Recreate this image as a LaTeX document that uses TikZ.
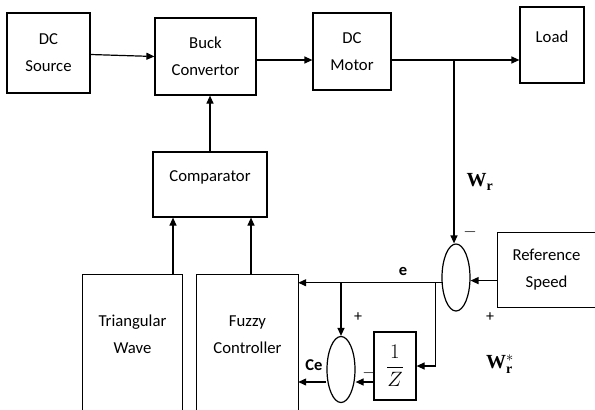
\documentclass[tikz,border=0pt]{standalone}
\usepackage{fontspec}
\setmainfont{Carlito}
\setmathrm{Liberation Serif}
\usetikzlibrary{arrows.meta,shapes.geometric}
\begin{document}
\begin{tikzpicture}[x=1pt,y=-1pt,
  box/.style={draw, line width=1.2pt, align=center, inner sep=0pt, font=\fontsize{16.7}{27}\selectfont},
  obox/.style={align=center, inner sep=0pt, font=\fontsize{16.7}{27}\selectfont},
  wire/.style={line width=1.2pt},
  arr/.style={line width=1.2pt, -{Triangle[length=8pt,width=7pt]}},
  sumnode/.style={ellipse, draw, line width=1.2pt, inner sep=0pt, minimum width=28pt, minimum height=67pt},
  lbl/.style={inner sep=0pt, font=\fontsize{16}{18}\selectfont},
  blbl/.style={inner sep=0pt, font=\fontsize{16.5}{18}\selectfont\bfseries},
  mlbl/.style={inner sep=0pt, font=\fontsize{20}{22}\selectfont}
]
\useasboundingbox (0,0) rectangle (595,410);
% blocks
\node[box, minimum width=83pt, minimum height=80pt] (dcs) at (48.5,53) {DC\\Source};
\node[box, minimum width=101pt, minimum height=77pt] (buck) at (205.5,56.5) {Buck\\Convertor};
\node[box, minimum width=78pt, minimum height=77pt] (motor) at (352,51.5) {DC\\Motor};
\node[box, minimum width=64pt, minimum height=76pt, text depth=16pt] (load) at (552,45) {Load};
\node[box, minimum width=114pt, minimum height=65pt, text depth=16pt] (comp) at (210,184.5) {Comparator};
\node[obox, minimum width=99pt, minimum height=135pt, text depth=17pt] (tri) at (132.5,342.5) {Triangular\\Wave};
\node[obox, minimum width=101pt, minimum height=135pt, text depth=15pt] (fuzzy) at (247.5,342.5) {Fuzzy\\Controller};
\node[obox, minimum width=97pt, minimum height=74pt] (ref) at (546.5,270) {Reference\\Speed};
\node[sumnode] (sum1) at (456,277.5) {};
\node[sumnode, minimum height=66pt] (sum2) at (341,369.5) {};
\node[draw, line width=1.2pt, inner sep=0pt, minimum width=42pt, minimum height=68pt, font=\fontsize{21}{23}\selectfont] (zbox) at (395,366) {$\displaystyle\frac{1}{Z}$};
% open-sided boxes
\draw[wire] (tri.south west) -- (tri.north west) -- (tri.north east) -- (tri.south east);
\draw[wire] (fuzzy.south west) -- (fuzzy.north west) -- (fuzzy.north east) -- (fuzzy.south east);
\draw[wire] (ref.north east) -- (ref.north west) -- (ref.south west) -- (ref.south east);
% forward path
\coordinate (tap) at (454,60);
\draw[arr] ([yshift=-1.5pt]dcs.east) -- (buck.west);
\draw[arr] (buck.east |- tap) -- (motor.west |- tap);
\draw[wire] (motor.east |- tap) -- (tap);
\draw[arr] (tap) -- (load.west |- tap);
\draw[arr] (tap) -- (tap |- sum1.north);
\draw[arr] (comp.north -| 210,0) -- (buck.south -| 210,0);
\draw[arr] ([xshift=40.5pt]tri.north) -- ([xshift=40.5pt]tri.north |- comp.south);
\draw[arr] ([xshift=3.5pt]fuzzy.north) -- ([xshift=3.5pt]fuzzy.north |- comp.south);
% feedback
\draw[arr] (ref.west |- sum1.-12) -- (sum1.-12);
\coordinate (e0) at (sum1.200);
\coordinate (b2) at ([xshift=-6pt]sum1.200);
\draw[arr] (e0) -- (fuzzy.east |- e0);
\coordinate (b1) at (sum2.north |- e0);
\draw[arr] (b1) -- (sum2.north);
\draw[arr] (b2) |- (zbox.east);
\coordinate (zl) at ([yshift=-16pt]zbox.west);
\draw[arr] (zl) -- (zl -| sum2.east);
\draw[arr] (sum2.west |- zl) -- (fuzzy.east |- zl);
% labels
\node[mlbl] (lwr) at (480,182) {$\mathbf{W_r}$};
\node[lbl] (m1) at (470,232) {$-$};
\node[lbl] (p1) at (490,317) {+};
\node[blbl] (le) at (403,271) {e};
\node[lbl] (p2) at (358,317) {+};
\node[lbl] (m2) at (369,373) {$-$};
\node[blbl] (lce) at (314,365) {Ce};
\node[mlbl] (lwrs) at (500,364) {$\mathbf{W_r^{\ast}}$};
\end{tikzpicture}
\end{document}
